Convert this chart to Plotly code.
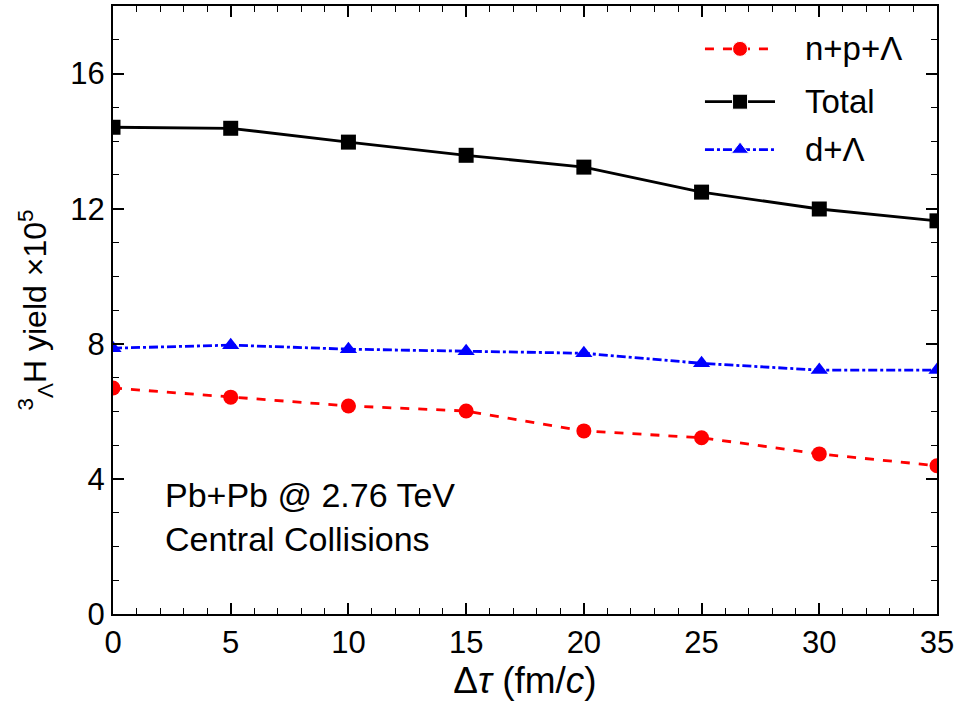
import plotly.graph_objects as go

dtau = [0, 5, 10, 15, 20, 25, 30, 35]
total = [14.41, 14.38, 13.97, 13.58, 13.23, 12.49, 11.99, 11.64]
d_lam = [7.87, 7.96, 7.84, 7.78, 7.72, 7.42, 7.22, 7.22]
npl = [6.69, 6.42, 6.16, 6.01, 5.42, 5.22, 4.74, 4.39]

names = ["n+p+Λ", "Total", "d+Λ"]
colors = ["#ff0000", "black", "#0000ff"]
dashes = ["dash", "solid", "dashdot"]
symbols = ["circle", "square", "triangle-up"]
series = [npl, total, d_lam]

FONT = "Liberation Sans, Arial, sans-serif"

fig = go.Figure()
for nm, c, d, s, ys in zip(names, colors, dashes, symbols, series):
    fig.add_trace(go.Scatter(x=dtau, y=ys, mode="lines+markers", name=nm,
                             line=dict(color=c, width=2.8, dash=d),
                             marker=dict(symbol=s, size=15, color=c),
                             showlegend=False))

# custom legend (longer sample lines than plotly's built-in legend)
leg_y = [0.9295, 0.8426, 0.7639]
for nm, c, d, s, ly in zip(names, colors, dashes, symbols, leg_y):
    fig.add_trace(go.Scatter(x=[0.7184, 0.761, 0.8034], y=[ly, ly, ly],
                             xaxis="x2", yaxis="y2", mode="lines+markers",
                             line=dict(color=c, width=2.8, dash=d),
                             marker=dict(symbol=s, size=[0, 15, 0], color=c, opacity=1),
                             showlegend=False, hoverinfo="skip"))
    fig.add_annotation(x=0.8374, y=ly, xref="paper", yref="paper", xanchor="left",
                       yanchor="middle", showarrow=False, text=nm,
                       font=dict(family=FONT, size=33, color="black"))

axis_common = dict(showline=True, linecolor="black", linewidth=2, mirror="allticks",
                   ticks="inside", ticklen=11, tickwidth=1.5, tickcolor="black",
                   showgrid=False, zeroline=False,
                   tickfont=dict(family=FONT, size=31, color="black"))

fig.update_xaxes(range=[0, 35], tick0=0, dtick=5,
                 minor=dict(ticks="inside", ticklen=6, tickwidth=1.2, tickcolor="black", dtick=1),
                 title=dict(text="Δ<i>τ</i> (fm/<i>c</i>)", font=dict(family=FONT, size=37, color="black"), standoff=4),
                 **axis_common)
fig.update_yaxes(range=[0, 18], tick0=0, dtick=4,
                 minor=dict(ticks="inside", ticklen=6, tickwidth=1.2, tickcolor="black", dtick=1),
                 title=dict(text="<sup>3</sup><sub>Λ</sub>H yield ×10<sup>5</sup>", font=dict(family=FONT, size=32, color="black"), standoff=14),
                 **axis_common)

fig.add_annotation(x=0.061, y=0.16, xref="paper", yref="paper", xanchor="left", yanchor="middle",
                   align="left", showarrow=False,
                   text="Pb+Pb @ 2.76 TeV<br>Central Collisions",
                   font=dict(family=FONT, size=34, color="black"))

fig.update_layout(
    width=961, height=701,
    margin=dict(l=113, r=24, t=4, b=87),
    plot_bgcolor="white", paper_bgcolor="white",
    showlegend=False,
    xaxis2=dict(overlaying="x", range=[0, 1], visible=False, fixedrange=True),
    yaxis2=dict(overlaying="y", range=[0, 1], visible=False, fixedrange=True),
)

fig.write_html("out.html", config={"displayModeBar": False},
               post_script="document.body.style.margin='0';document.body.style.padding='0';")
